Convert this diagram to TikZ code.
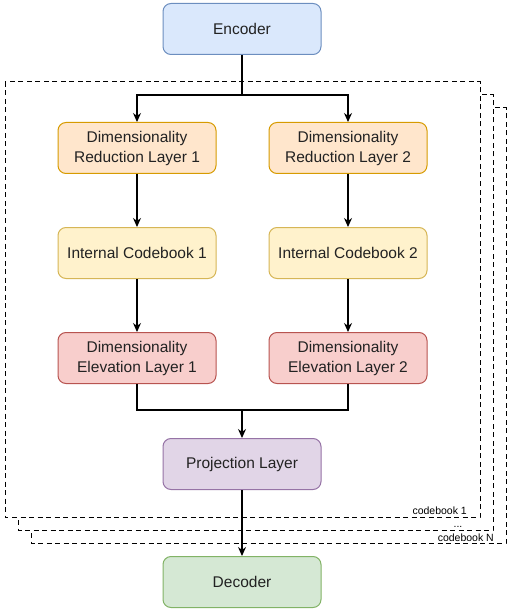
\documentclass[tikz,border=0pt]{standalone}
\usepackage{fontspec}
\setmainfont{Liberation Sans}
\usetikzlibrary{arrows.meta}
\definecolor{encF}{HTML}{DAE8FC}\definecolor{encD}{HTML}{6C8EBF}
\definecolor{drF}{HTML}{FFE6CC}\definecolor{drD}{HTML}{D79B00}
\definecolor{icF}{HTML}{FFF2CC}\definecolor{icD}{HTML}{D6B656}
\definecolor{deF}{HTML}{F8CECC}\definecolor{deD}{HTML}{B85450}
\definecolor{prF}{HTML}{E1D5E7}\definecolor{prD}{HTML}{9673A6}
\definecolor{dcF}{HTML}{D5E8D4}\definecolor{dcD}{HTML}{82B366}
\definecolor{txt}{HTML}{222222}
\begin{document}
\begin{tikzpicture}[x=1pt,y=-1pt,
  box/.style={draw, line width=1pt, rounded corners=8pt, minimum width=158pt, minimum height=51pt,
    align=center, font=\fontsize{15.5}{20}\selectfont, text=txt, inner sep=0pt},
  cbk/.style={draw, dash pattern=on 5pt off 3.5pt, line width=1pt, fill=white},
  arr/.style={line width=1.2pt, -{Stealth[length=9pt,width=8pt]}},
  ln/.style={line width=1.2pt},
  small/.style={font=\fontsize{10.5}{12}\selectfont, inner sep=0pt}]
\useasboundingbox (0,0) rectangle (511,612);
% stacked codebook frames
\draw[cbk] (31,108) rectangle (506,543);
\draw[cbk] (18,95) rectangle (493,530);
\draw[cbk] (5,82) rectangle (480,517);
\node[small, anchor=base east] (cb1) at (467,514) {codebook 1};
\node[small, anchor=base] (dots) at (458,527) {...};
\node[small, anchor=base east] (cbN) at (494,541) {codebook N};
% nodes
\node[box, fill=encF, draw=encD] (enc) at (242,29) {Encoder};
\node[box, fill=drF, draw=drD] (dr1) at (137,148) {Dimensionality\\Reduction Layer 1};
\node[box, fill=drF, draw=drD] (dr2) at (348,148) {Dimensionality\\Reduction Layer 2};
\node[box, fill=icF, draw=icD] (ic1) at (137,253) {Internal Codebook 1};
\node[box, fill=icF, draw=icD] (ic2) at (348,253) {Internal Codebook 2};
\node[box, fill=deF, draw=deD] (de1) at (137,358) {Dimensionality\\Elevation Layer 1};
\node[box, fill=deF, draw=deD] (de2) at (348,358) {Dimensionality\\Elevation Layer 2};
\node[box, fill=prF, draw=prD] (proj) at (242,464) {Projection Layer};
\node[box, fill=dcF, draw=dcD] (dec) at (242,582) {Decoder};
\coordinate (split) at (242,95);
\coordinate (merge) at (242,410);
% connectors
\draw[ln] (enc.south) -- (split);
\draw[arr] (split) -| (dr1.north);
\draw[arr] (split) -| (dr2.north);
\draw[arr] (dr1) -- (ic1);
\draw[arr] (dr2) -- (ic2);
\draw[arr] (ic1) -- (de1);
\draw[arr] (ic2) -- (de2);
\draw[ln] (de1.south) |- (merge);
\draw[ln] (de2.south) |- (merge);
\draw[arr] (merge) -- (proj.north);
\draw[arr] (proj) -- (dec);
\end{tikzpicture}
\end{document}
